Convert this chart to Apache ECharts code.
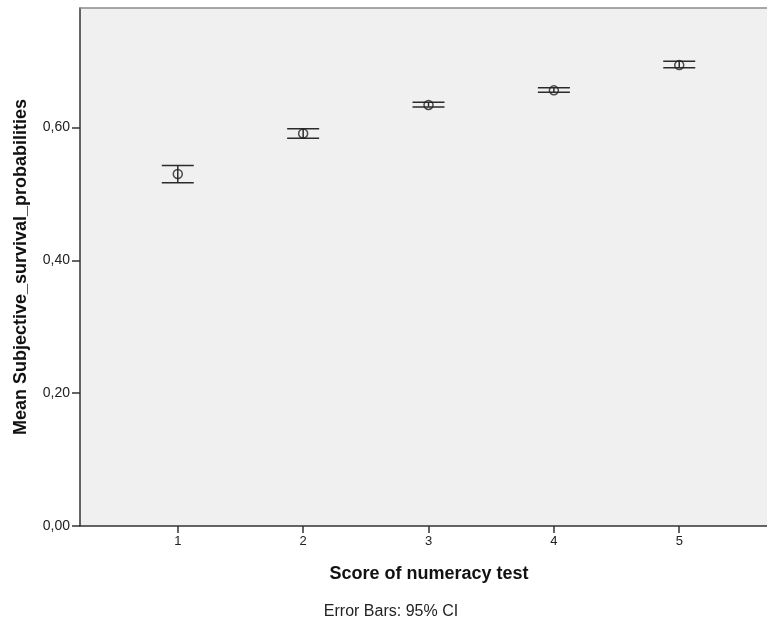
<!DOCTYPE html>
<html>
<head>
<meta charset="utf-8">
<script src="https://cdn.jsdelivr.net/npm/echarts@6/dist/echarts.min.js"></script>
<style>
  html, body { margin: 0; padding: 0; background: #fff; }
  #chart { width: 767px; height: 623px; }
</style>
</head>
<body>
<div id="chart"></div>
<script>
// Numeracy score groups and mean subjective survival probability with 95% CI
const scores = [1, 2, 3, 4, 5];
const means = [0.530, 0.591, 0.634, 0.656, 0.694];
const ciLower = [0.517, 0.584, 0.631, 0.653, 0.690];
const ciUpper = [0.543, 0.598, 0.638, 0.660, 0.700];
const yTicks = [0, 0.2, 0.4, 0.6];

const barData = scores.map((s, i) => [s, ciLower[i], ciUpper[i]]);
const meanData = scores.map((s, i) => [s, means[i]]);

const FONT = 'Arial, "Liberation Sans", sans-serif';
const lineStyle = { stroke: '#2b2b2b', lineWidth: 1.5 };
const capHalf = 16;
const xMin = 0.22, xMax = 5.70;

const chart = echarts.init(document.getElementById('chart'));
chart.setOption({
  animation: false,
  textStyle: { fontFamily: FONT },
  grid: {
    left: 80, top: 8, right: 0, bottom: 97,
    show: true, backgroundColor: '#F0F0F0', borderWidth: 0
  },
  xAxis: [{
    type: 'value', min: xMin, max: xMax,
    name: 'Score of numeracy test', nameLocation: 'middle', nameGap: 39,
    nameTextStyle: { fontSize: 18, fontWeight: 'bold', color: '#111', padding: [0, 0, 0, 11] },
    axisLine: { show: true, onZero: false, lineStyle: { color: '#333', width: 1.5 } },
    axisTick: { show: true, length: 7, customValues: scores, lineStyle: { color: '#333', width: 1.5 } },
    axisLabel: { customValues: scores, fontSize: 13, color: '#222', margin: 9 },
    splitLine: { show: false }
  }, {
    // upper frame line of the plot area
    type: 'value', position: 'top', min: xMin, max: xMax,
    axisLine: { show: true, onZero: false, lineStyle: { color: '#8a8a8a', width: 1.5 } },
    axisTick: { show: false }, axisLabel: { show: false }, splitLine: { show: false }
  }],
  yAxis: {
    type: 'value', min: 0, max: 0.78,
    name: 'Mean Subjective_survival_probabilities', nameLocation: 'middle', nameGap: 50, nameRotate: 90,
    nameTextStyle: { fontSize: 18, fontWeight: 'bold', color: '#111' },
    axisLine: { show: true, lineStyle: { color: '#333', width: 1.5 } },
    axisTick: { show: true, length: 8, customValues: yTicks, lineStyle: { color: '#333', width: 1.5 } },
    axisLabel: {
      customValues: yTicks, fontSize: 14, color: '#222', margin: 10,
      formatter: v => v.toFixed(2).replace('.', ',')
    },
    splitLine: { show: false }
  },
  graphic: [{
    type: 'text', x: 391, y: 612,
    style: { text: 'Error Bars: 95% CI', fontSize: 16, fill: '#222', fontFamily: FONT, align: 'center', verticalAlign: 'middle' }
  }],
  series: [{
    type: 'custom',
    data: barData,
    renderItem: function (params, api) {
      const lo = api.coord([api.value(0), api.value(1)]);
      const hi = api.coord([api.value(0), api.value(2)]);
      return {
        type: 'group',
        children: [
          { type: 'line', shape: { x1: lo[0], y1: lo[1], x2: hi[0], y2: hi[1] }, style: lineStyle },
          { type: 'line', shape: { x1: lo[0] - capHalf, y1: lo[1], x2: lo[0] + capHalf, y2: lo[1] }, style: lineStyle },
          { type: 'line', shape: { x1: hi[0] - capHalf, y1: hi[1], x2: hi[0] + capHalf, y2: hi[1] }, style: lineStyle }
        ]
      };
    },
    z: 2
  }, {
    type: 'scatter',
    data: meanData,
    symbol: 'circle', symbolSize: 9,
    itemStyle: { color: 'rgba(0,0,0,0)', borderColor: '#222', borderWidth: 1.5 },
    z: 3
  }]
});
</script>
</body>
</html>
